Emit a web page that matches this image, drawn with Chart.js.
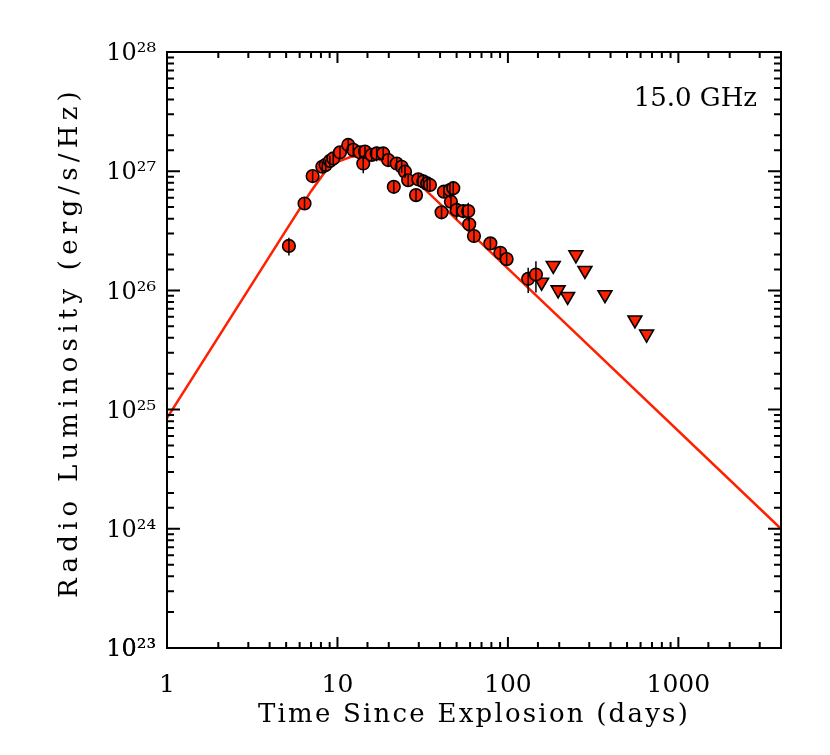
<!DOCTYPE html>
<html>
<head>
<meta charset="utf-8">
<script src="https://cdn.jsdelivr.net/npm/chart.js@4.4.1/dist/chart.umd.min.js"></script>
<style>
  html, body { margin: 0; padding: 0; background: #fff; }
</style>
</head>
<body>
<canvas id="chart" width="830" height="755"></canvas>
<script>
// detections at 15 GHz: days, luminosity (erg/s/Hz), 1-sigma error
const days = [5.19, 6.41, 7.15, 8.15, 8.53, 9.03, 9.45, 10.35, 11.57, 12.38,
  13.55, 14.17, 14.5, 15.87, 16.98, 18.56, 19.86, 22.25, 23.8, 24.9,
  21.4, 26.0, 29.8, 28.9, 31.9, 33.6, 34.9, 40.8, 42.1, 45.7,
  47.8, 46.3, 50.0, 54.7, 58.5, 59.3, 63.2, 78.9, 90.3, 98.3,
  131.5, 146];
const lum = [2.36e26, 5.36e26, 9.1e26, 1.09e27, 1.13e27, 1.22e27, 1.28e27, 1.44e27, 1.66e27, 1.51e27,
  1.44e27, 1.16e27, 1.46e27, 1.37e27, 1.41e27, 1.41e27, 1.24e27, 1.16e27, 1.09e27, 9.9e26,
  7.4e26, 8.4e26, 8.55e26, 6.3e26, 8.2e26, 7.9e26, 7.66e26, 4.52e26, 6.73e26, 6.95e26,
  7.2e26, 5.55e26, 4.73e26, 4.63e26, 4.63e26, 3.59e26, 2.86e26, 2.48e26, 2.07e26, 1.83e26,
  1.25e26, 1.36e26];
const lumErr = [0.4e26, 0.6e26, 1.0e26, 1.2e26, 1.2e26, 1.3e26, 1.4e26, 1.6e26, 1.8e26, 1.7e26,
  1.6e26, 2.0e26, 1.6e26, 1.5e26, 2.0e26, 1.6e26, 1.4e26, 1.3e26, 1.2e26, 1.1e26,
  0.85e26, 0.95e26, 1.0e26, 0.7e26, 1.2e26, 0.9e26, 0.9e26, 0.5e26, 0.75e26, 1.0e26,
  1.0e26, 0.8e26, 0.8e26, 0.6e26, 0.8e26, 0.4e26, 0.32e26, 0.28e26, 0.23e26, 0.2e26,
  0.3e26, 0.4e26];

// upper limits
const limDays = [157.7, 184.5, 197, 224, 250.5, 283, 371, 556, 651];
const limLum = [1.17e26, 1.62e26, 1.01e26, 8.9e25, 1.99e26, 1.47e26, 9.2e25, 5.65e25, 4.3e25];

// model light curve (red line)
const modelDays = [1, 5, 7, 8.5, 10, 12, 14, 17, 20, 25, 32, 4000];
const modelLum = [8.5e24, 3.2e26, 6.8e26, 1.0e27, 1.2e27, 1.32e27, 1.35e27, 1.29e27, 1.15e27, 9.3e26, 7.2e26, 1.0e24];

const xLabels = [1, 10, 100, 1000];
const yExponents = [23, 24, 25, 26, 27, 28];

const FONT = '"DejaVu Serif", serif';
const RED = 'rgb(255,32,0)';
const SUP = {'0':'⁰','1':'¹','2':'²','3':'³','4':'⁴','5':'⁵','6':'⁶','7':'⁷','8':'⁸','9':'⁹'};

function isDecade(v) {
  const e = Math.round(Math.log10(v));
  return Math.abs(v / Math.pow(10, e) - 1) < 1e-6;
}

// the original lettering is wide, so stretch text to a given length
function spacedText(ctx, text, x, y, target, rot) {
  ctx.save();
  ctx.translate(x, y);
  ctx.rotate(rot);
  ctx.letterSpacing = '0px';
  const w = ctx.measureText(text).width;
  ctx.letterSpacing = ((target - w) / text.length).toFixed(2) + 'px';
  ctx.textAlign = 'center';
  ctx.textBaseline = 'middle';
  ctx.fillText(text, 0, 0);
  ctx.restore();
}

// box, inward ticks on all sides, error bars, titles, band label
const frame = {
  id: 'frame',
  afterDatasetsDraw(chart) {
    const {ctx, chartArea: a, scales: {x, y}} = chart;
    ctx.save();
    ctx.strokeStyle = '#000';

    ctx.lineWidth = 1.5;
    days.forEach((d, i) => {
      const px = x.getPixelForValue(d);
      ctx.beginPath();
      ctx.moveTo(px, y.getPixelForValue(lum[i] - lumErr[i]));
      ctx.lineTo(px, y.getPixelForValue(lum[i] + lumErr[i]));
      ctx.stroke();
    });

    ctx.lineWidth = 2;
    ctx.beginPath();
    x.ticks.forEach(t => {
      const px = x.getPixelForValue(t.value);
      const len = isDecade(t.value) ? 11 : 6;
      ctx.moveTo(px, a.bottom); ctx.lineTo(px, a.bottom - len);
      ctx.moveTo(px, a.top); ctx.lineTo(px, a.top + len);
    });
    y.ticks.forEach(t => {
      const py = y.getPixelForValue(t.value);
      const len = isDecade(t.value) ? 13 : 7;
      ctx.moveTo(a.left, py); ctx.lineTo(a.left + len, py);
      ctx.moveTo(a.right, py); ctx.lineTo(a.right - len, py);
    });
    ctx.stroke();
    ctx.strokeRect(a.left, a.top, a.right - a.left, a.bottom - a.top);

    ctx.fillStyle = '#000';
    ctx.font = '26px ' + FONT;
    spacedText(ctx, 'Time Since Explosion (days)', (a.left + a.right) / 2, 715, 432, 0);
    spacedText(ctx, 'Radio Luminosity (erg/s/Hz)', 70, 342, 512, -Math.PI / 2);

    ctx.font = '26px ' + FONT;
    ctx.textAlign = 'right';
    ctx.textBaseline = 'middle';
    ctx.fillText('15.0 GHz', 757, 99);
    ctx.restore();
  }
};

new Chart(document.getElementById('chart'), {
  type: 'scatter',
  data: {
    datasets: [
      {
        label: 'detections',
        data: days.map((d, i) => ({x: d, y: lum[i]})),
        pointStyle: 'circle',
        pointRadius: 6.3,
        backgroundColor: RED,
        borderColor: '#000',
        borderWidth: 1.6
      },
      {
        label: 'upper limits',
        data: limDays.map((d, i) => ({x: d, y: limLum[i]})),
        pointStyle: 'triangle',
        rotation: 180,
        pointRadius: 8,
        backgroundColor: RED,
        borderColor: '#000',
        borderWidth: 1.6
      },
      {
        label: 'model',
        data: modelDays.map((d, i) => ({x: d, y: modelLum[i]})),
        showLine: true,
        pointRadius: 0,
        borderColor: RED,
        borderWidth: 2.5
      }
    ]
  },
  options: {
    responsive: false,
    animation: false,
    layout: {padding: {top: 52, right: 49, left: 0, bottom: 0}},
    plugins: {legend: {display: false}, tooltip: {enabled: false}},
    scales: {
      x: {
        type: 'logarithmic',
        min: 1,
        max: 4000,
        grid: {display: false, drawTicks: false},
        border: {display: false},
        afterFit: s => { s.height = 107; },
        ticks: {
          autoSkip: false,
          maxRotation: 0,
          padding: 22,
          color: '#000',
          font: {family: FONT, size: 25},
          callback: v => {
            const l = xLabels.find(l => Math.abs(v - l) < 1e-6 * l);
            return l ? String(l) : '';
          }
        }
      },
      y: {
        type: 'logarithmic',
        min: 1e23,
        max: 1e28,
        grid: {display: false, drawTicks: false},
        border: {display: false},
        afterFit: s => { s.width = 167; },
        ticks: {
          autoSkip: false,
          padding: 11,
          labelOffset: 2,
          color: '#000',
          font: {family: FONT, size: 24},
          callback: v => {
            if (!isDecade(v)) return '';
            const e = Math.round(Math.log10(v));
            if (!yExponents.includes(e)) return '';
            return '10' + String(e).split('').map(c => SUP[c]).join('');
          }
        }
      }
    }
  },
  plugins: [frame]
});
</script>
</body>
</html>
